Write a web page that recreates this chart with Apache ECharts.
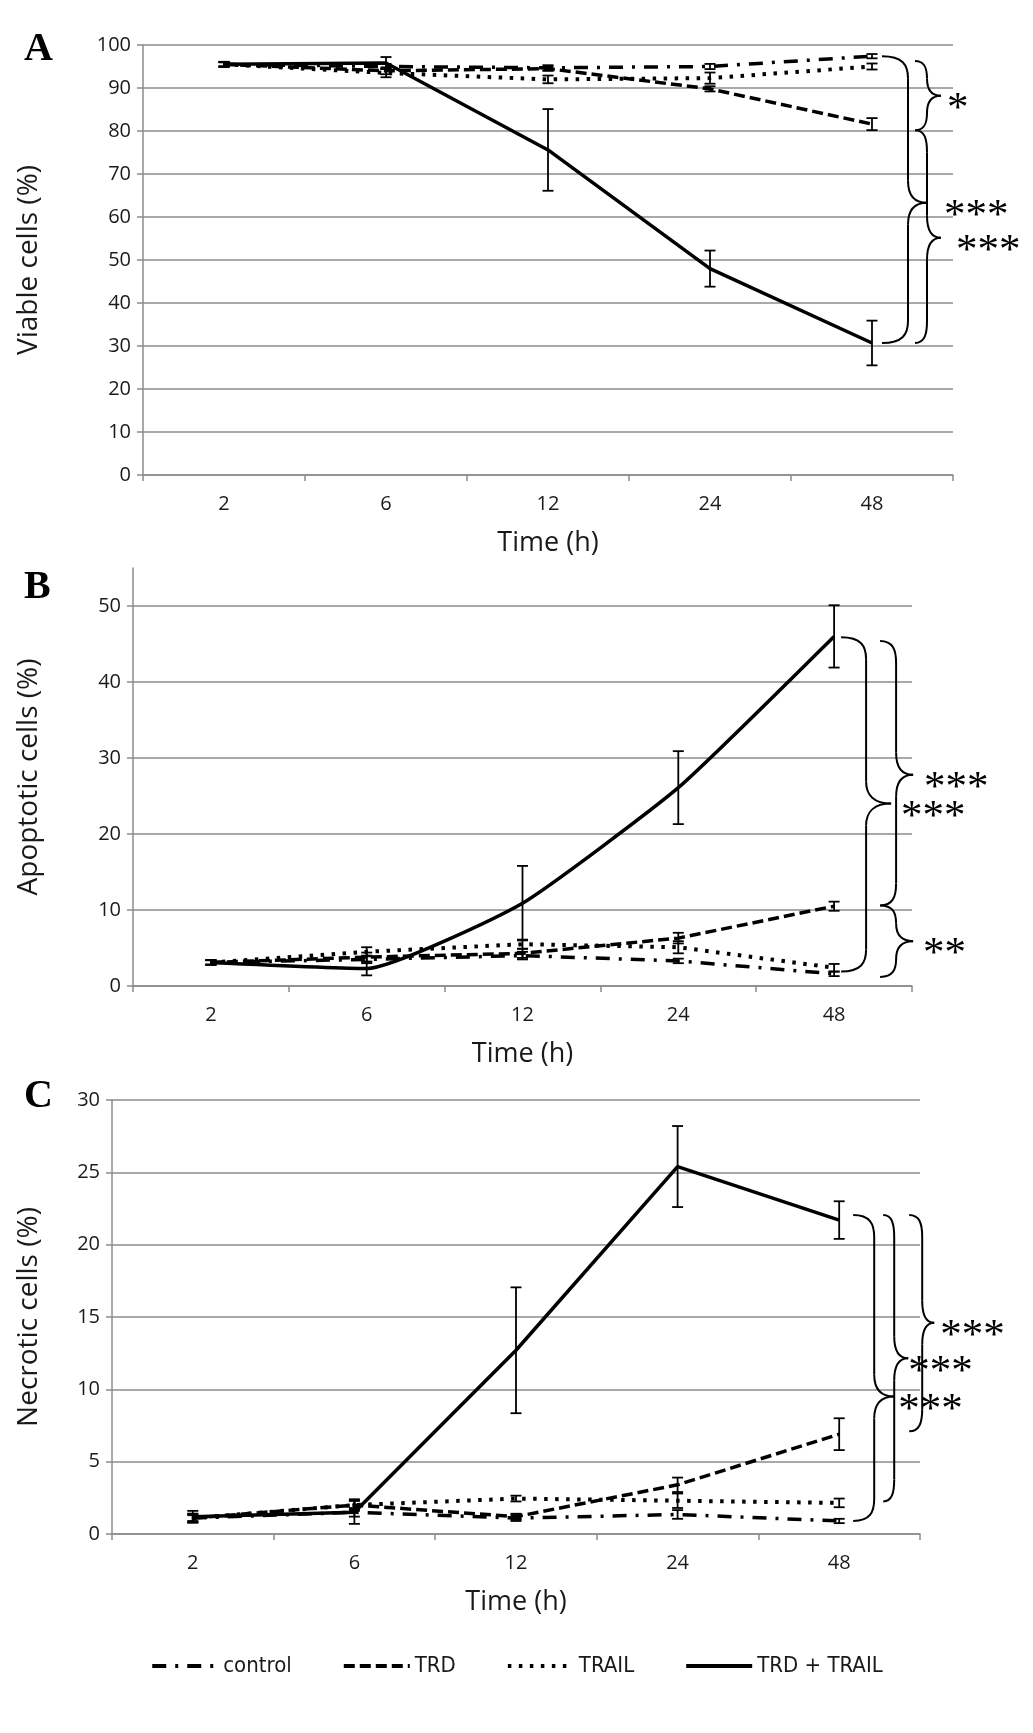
<!DOCTYPE html>
<html>
<head>
<meta charset="utf-8">
<script src="https://cdn.jsdelivr.net/npm/echarts@6/dist/echarts.min.js"></script>
<style>
  html, body { margin: 0; padding: 0; background: #fff; }
  #main { width: 1033px; height: 1733px; }
</style>
</head>
<body>
<div id="main"></div>
<script>
// time points and groups
var hours = ['2', '6', '12', '24', '48'];
var groups = ['control', 'TRD', 'TRAIL', 'TRD + TRAIL'];

// A - viable cells (%)
var viableControl = [95.5, 95.0, 94.7, 95.0, 97.4];
var viableTRD = [95.5, 94.0, 94.5, 89.8, 81.6];
var viableTRAIL = [95.5, 93.5, 92.0, 92.3, 95.0];
var viableCombo = [95.5, 95.8, 75.6, 48.0, 30.7];
var viableErrControl = [0.5, 0.6, 0.6, 0.6, 0.5];
var viableErrTRD = [0.5, 0.8, 0.5, 0.6, 1.4];
var viableErrTRAIL = [0.5, 1.0, 0.9, 1.3, 0.7];
var viableErrCombo = [0.6, 1.4, 9.5, 4.2, 5.2];

// B - apoptotic cells (%)
var apoControl = [3.1, 3.5, 4.0, 3.3, 1.6];
var apoTRD = [3.1, 3.8, 4.3, 6.3, 10.5];
var apoTRAIL = [3.1, 4.5, 5.5, 5.1, 2.4];
var apoCombo = [3.1, 2.3, 10.9, 26.1, 46.0];
var apoErrControl = [0.3, 0.5, 0.5, 0.3, 0.3];
var apoErrTRD = [0.3, 0.6, 0.6, 0.7, 0.6];
var apoErrTRAIL = [0.3, 0.6, 0.6, 0.8, 0.5];
var apoErrCombo = [0.3, 0.9, 4.9, 4.8, 4.1];

// C - necrotic cells (%)
var necControl = [1.1, 1.5, 1.1, 1.35, 0.9];
var necTRD = [1.1, 2.0, 1.2, 3.4, 6.9];
var necTRAIL = [1.1, 2.0, 2.45, 2.3, 2.15];
var necCombo = [1.2, 1.5, 12.7, 25.4, 21.7];
var necErrControl = [0.2, 0.3, 0.2, 0.3, 0.15];
var necErrTRD = [0.3, 0.4, 0.2, 0.5, 1.1];
var necErrTRAIL = [0.3, 0.3, 0.2, 0.5, 0.3];
var necErrCombo = [0.4, 0.8, 4.35, 2.8, 1.3];

// significance brackets at 48 h: [from, to, tip] in % and stars
var viableBraces = [[97.4, 30.7, 63.3], [96.3, 80.2, 88.2], [80.2, 30.7, 55.2]];
var viableStars = ['***', '*', '***'];
var apoBraces = [[45.9, 1.9, 24.0], [45.4, 10.6, 27.8], [10.6, 1.2, 5.9]];
var apoStars = ['***', '***', '**'];
var necBraces = [[22.05, 0.9, 9.5], [22.05, 2.25, 12.15], [22.05, 7.1, 14.6]];
var necStars = ['***', '***', '***'];

// axis settings
var yNames = ['Viable cells (%)', 'Apoptotic cells (%)', 'Necrotic cells (%)'];
var yMax = [100, 55, 30];
var yStep = [10, 10, 5];
var letters = ['A', 'B', 'C'];

var panels = [
  { values: [viableControl, viableTRD, viableTRAIL, viableCombo],
    errs: [viableErrControl, viableErrTRD, viableErrTRAIL, viableErrCombo],
    braces: viableBraces, stars: viableStars },
  { values: [apoControl, apoTRD, apoTRAIL, apoCombo],
    errs: [apoErrControl, apoErrTRD, apoErrTRAIL, apoErrCombo],
    braces: apoBraces, stars: apoStars },
  { values: [necControl, necTRD, necTRAIL, necCombo],
    errs: [necErrControl, necErrTRD, necErrTRAIL, necErrCombo],
    braces: necBraces, stars: necStars }
];

// layout / style
var grids = [
  { left: 143, top: 45, width: 810, height: 430 },
  { left: 133, top: 568, width: 779, height: 418 },
  { left: 112, top: 1100, width: 808, height: 434 }
];
var letterTops = [30, 568, 1077];
var yNameGaps = [100, 90, 69];
var smoothing = [false, 0.15, false];
// brace geometry: offsets (px) from the 48 h position: left end, spine, tip, label gap
var braceShapes = [
  [{ l: 10, s: 36, t: 55, lx: 17 }, { l: 43, s: 55, t: 69, lx: 6 }, { l: 43, s: 55, t: 69, lx: 15 }],
  [{ l: 7, s: 32, t: 57, lx: 10 }, { l: 46, s: 62, t: 79, lx: 11 }, { l: 46, s: 62, t: 79, lx: 10 }],
  [{ l: 14, s: 35, t: 55, lx: 4 }, { l: 44, s: 55, t: 69, lx: 0 }, { l: 70, s: 83, t: 95, lx: 6 }]
];
var lineStyles = [
  { color: '#000', width: 3.5, type: [14, 9, 3, 9] },
  { color: '#000', width: 3.5, type: [11, 5] },
  { color: '#000', width: 4, type: [3.5, 7.5] },
  { color: '#000', width: 3.5, type: 'solid' }
];
var gray = '#8c8c8c';
var txt = '#1a1a1a';
var font = "'Open Sans', sans-serif";

var chart = echarts.init(document.getElementById('main'));

function errorBarItem(params, api) {
  var lo = api.coord([api.value(0), api.value(1)]);
  var hi = api.coord([api.value(0), api.value(2)]);
  var w = 5.5;
  var st = { stroke: '#000', lineWidth: 1.8 };
  return {
    type: 'group',
    children: [
      { type: 'line', shape: { x1: lo[0], y1: lo[1], x2: hi[0], y2: hi[1] }, style: st },
      { type: 'line', shape: { x1: lo[0] - w, y1: lo[1], x2: lo[0] + w, y2: lo[1] }, style: st },
      { type: 'line', shape: { x1: hi[0] - w, y1: hi[1], x2: hi[0] + w, y2: hi[1] }, style: st }
    ]
  };
}

function braceItem(p) {
  return function (params, api) {
    var sh = braceShapes[p][params.dataIndex];
    var a = api.coord([api.value(0), api.value(1)]);
    var b = api.coord([api.value(0), api.value(2)]);
    var m = api.coord([api.value(0), api.value(3)]);
    var L = a[0] + sh.l, S = a[0] + sh.s, T = a[0] + sh.t;
    var y1 = a[1], y2 = b[1], ym = m[1];
    var r = Math.min(22, (ym - y1) / 2, (y2 - ym) / 2);
    var st = { stroke: '#000', lineWidth: 2, fill: null };
    return {
      type: 'group',
      children: [
        { type: 'bezierCurve', shape: { x1: L, y1: y1, cpx1: S - (S - L) * 0.2, cpy1: y1, cpx2: S, cpy2: y1 + r * 0.4, x2: S, y2: y1 + r }, style: st },
        { type: 'line', shape: { x1: S, y1: y1 + r, x2: S, y2: ym - r }, style: st },
        { type: 'bezierCurve', shape: { x1: S, y1: ym - r, cpx1: S, cpy1: ym - r * 0.4, cpx2: S + (T - S) * 0.3, cpy2: ym, x2: T, y2: ym }, style: st },
        { type: 'bezierCurve', shape: { x1: T, y1: ym, cpx1: S + (T - S) * 0.3, cpy1: ym, cpx2: S, cpy2: ym + r * 0.4, x2: S, y2: ym + r }, style: st },
        { type: 'line', shape: { x1: S, y1: ym + r, x2: S, y2: y2 - r }, style: st },
        { type: 'bezierCurve', shape: { x1: S, y1: y2 - r, cpx1: S, cpy1: y2 - r * 0.4, cpx2: S - (S - L) * 0.2, cpy2: y2, x2: L, y2: y2 }, style: st },
        { type: 'text', x: T + sh.lx, y: ym + 14,
          style: { text: panels[p].stars[params.dataIndex], fontSize: 43, fontFamily: "'Liberation Serif', serif", fill: '#000', align: 'left', verticalAlign: 'middle' } }
      ]
    };
  };
}

var xAxes = [], yAxes = [], series = [], titles = [];
panels.forEach(function (pn, i) {
  titles.push({ text: letters[i], left: 24, top: letterTops[i], padding: 0,
    textStyle: { fontFamily: "'Liberation Serif', serif", fontWeight: 'bold', fontSize: 40, color: '#000' } });
  xAxes.push({
    type: 'category', gridIndex: i, data: hours, boundaryGap: true,
    axisLine: { lineStyle: { color: gray, width: 1.5 } },
    axisTick: { show: true, length: 6, interval: 0, lineStyle: { color: gray, width: 1.5 } },
    axisLabel: { interval: 0, color: txt, fontSize: 20, fontFamily: font, margin: 19 },
    splitLine: { show: false },
    name: 'Time (h)', nameLocation: 'middle', nameGap: 55,
    nameTextStyle: { color: txt, fontSize: 27, fontFamily: font }
  });
  yAxes.push({
    type: 'value', gridIndex: i, min: 0, max: yMax[i], interval: yStep[i],
    axisLine: { show: true, lineStyle: { color: gray, width: 1.5 } },
    axisTick: { show: true, length: 6, lineStyle: { color: gray, width: 1.5 } },
    axisLabel: { color: txt, fontSize: 20, fontFamily: font, margin: 12, showMaxLabel: i !== 1 },
    splitLine: { show: true, showMaxLine: i !== 1, lineStyle: { color: gray, width: 1.5 } },
    name: yNames[i], nameLocation: 'middle', nameGap: yNameGaps[i], nameRotate: 90,
    nameTextStyle: { color: txt, fontSize: 28, fontFamily: font }
  });
  pn.values.forEach(function (vals, g) {
    series.push({
      type: 'line', name: groups[g], xAxisIndex: i, yAxisIndex: i,
      data: vals, symbol: 'none', showSymbol: false, smooth: g === 3 ? smoothing[i] : false,
      lineStyle: lineStyles[g], itemStyle: { color: '#000' }, z: 3 + g
    });
  });
  var errData = [];
  pn.values.forEach(function (vals, g) {
    vals.forEach(function (v, k) {
      errData.push([k, v - pn.errs[g][k], v + pn.errs[g][k]]);
    });
  });
  series.push({
    type: 'custom', xAxisIndex: i, yAxisIndex: i, silent: true, z: 8,
    renderItem: errorBarItem, encode: { x: 0, y: [1, 2] }, data: errData
  });
  series.push({
    type: 'custom', xAxisIndex: i, yAxisIndex: i, silent: true, z: 8,
    renderItem: braceItem(i), encode: { x: 0, y: [1, 2] },
    data: pn.braces.map(function (b) { return [hours.length - 1, b[0], b[1], b[2]]; })
  });
});

chart.setOption({
  animation: false,
  backgroundColor: '#fff',
  title: titles,
  grid: grids,
  xAxis: xAxes,
  yAxis: yAxes,
  legend: {
    data: groups, left: 'center', top: 1650,
    itemWidth: 66, itemHeight: 12, itemGap: 50,
    itemStyle: { opacity: 0 },
    lineStyle: { width: 4 },
    textStyle: { fontFamily: "'Liberation Sans Narrow', 'DejaVu Sans Condensed', sans-serif", fontSize: 22, color: txt }
  },
  series: series
});
</script>
</body>
</html>
